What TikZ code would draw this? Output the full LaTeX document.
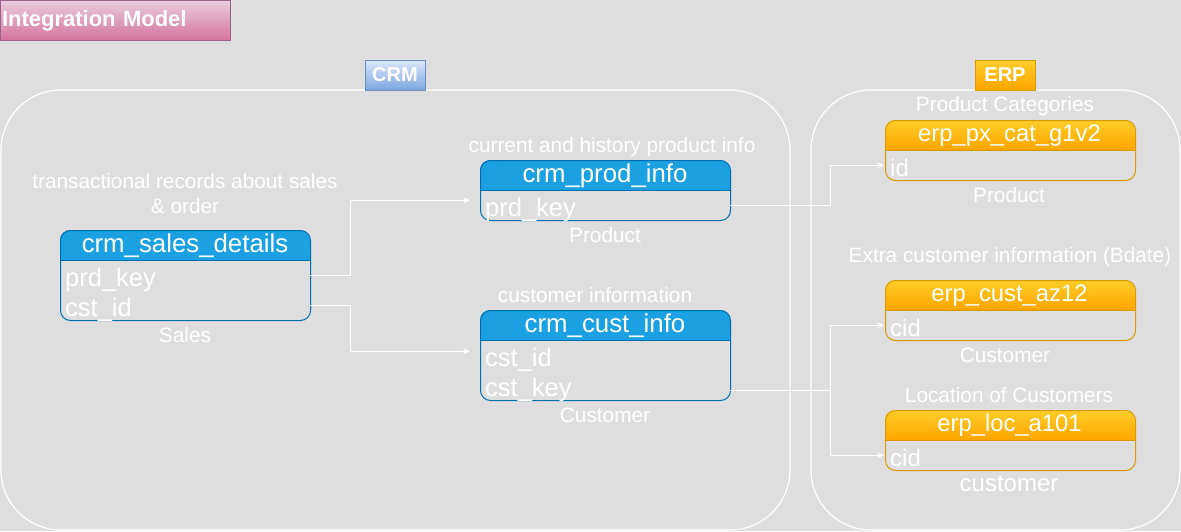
\documentclass[tikz,border=0pt]{standalone}
\usepackage{fontspec}
\setmainfont{Liberation Sans}
\usetikzlibrary{arrows.meta,calc}
\definecolor{bg}{HTML}{DEDEDE}
\definecolor{crmhead}{HTML}{1BA1E2}
\definecolor{crmline}{HTML}{006EAF}
\definecolor{erptop}{HTML}{FFCD28}
\definecolor{erpbot}{HTML}{FFA500}
\definecolor{erpline}{HTML}{D79B00}
\definecolor{pinktop}{HTML}{E8CCDC}
\definecolor{pinkbot}{HTML}{D5739D}
\definecolor{pinkline}{HTML}{996185}
\definecolor{bluetop}{HTML}{DAE8FC}
\definecolor{bluebot}{HTML}{7EA6E0}
\definecolor{blueline}{HTML}{6C8EBF}
\tikzset{
  container/.style={draw=white, line width=1.2pt, rounded corners=60pt},
  annot/.style={text=white, inner sep=0pt, align=center, text height=15pt, text depth=4pt, font=\fontsize{20.8}{25}\selectfont},
  tblbox/.style={draw=#1, line width=1pt, rounded corners=10pt, anchor=north west, inner sep=0pt, minimum width=250pt},
  crmshade/.style={fill=crmhead},
  erpshade/.style={top color=erptop, bottom color=erpbot},
  hdrcrm/.style={text=white, inner sep=0pt, text height=19pt, text depth=5pt, font=\fontsize{25.8}{30}\selectfont},
  hdrerp/.style={text=white, inner sep=0pt, text height=18pt, text depth=5pt, font=\fontsize{23.8}{28}\selectfont},
  rowcell/.style={anchor=north west, minimum width=250pt, minimum height=30pt, text width=240pt,
    inner xsep=5pt, inner ysep=2pt, text height=24pt, text depth=2pt, text=white, align=left},
  crmrow/.style={rowcell, font=\fontsize{25.5}{30}\selectfont},
  erprow/.style={rowcell, font=\fontsize{24}{28}\selectfont},
  conn/.style={draw=white, line width=1pt, -{Stealth[length=7pt,width=6pt]}},
  labelbox/.style={line width=1pt, inner sep=0pt, text=white, font=\bfseries\fontsize{20}{24}\selectfont,
    minimum width=60pt, minimum height=30pt},
}
\newcommand{\dbtab}[6]{%
  \pgfmathsetmacro{\tabh}{30+30*#4}%
  \begin{scope}
    \clip[rounded corners=10pt] (#2,#3) rectangle ++(250,\tabh);
    \path[#5] (#2,#3) rectangle ++(250,30);
  \end{scope}
  \node[tblbox=#6, minimum height=\tabh pt] (#1) at (#2,#3) {};
  \draw[#6, line width=1pt] (#2,#3+30) -- ++(250,0);
}
\begin{document}
\begin{tikzpicture}[x=1pt, y=-1pt]
\fill[bg] (0,0) rectangle (1181,531);
\useasboundingbox (0,0) rectangle (1181,531);

% containers
\draw[container] (1,90) rectangle (790,530);
\draw[container] (811,90) rectangle (1180,530);

% title and group labels
\node[draw=pinkline, line width=1pt, top color=pinktop, bottom color=pinkbot, anchor=north west,
      minimum width=230pt, minimum height=40pt, text width=227pt, inner xsep=1.5pt, align=left,
      text=white, font=\bfseries\fontsize{22}{26}\selectfont] (title) at (0,0) {Integration Model};
\node[labelbox, draw=blueline, top color=bluetop, bottom color=bluebot] (crm) at (395,75) {CRM};
\node[labelbox, draw=erpline, top color=erptop, bottom color=erpbot] (erp) at (1005,75) {ERP};

% CRM tables
\dbtab{sd}{60}{230}{2}{crmshade}{crmline}
\node[hdrcrm] (sd-h) at (185,245) {crm\_sales\_details};
\node[crmrow] (sd-r1) at (60,260) {prd\_key};
\node[crmrow] (sd-r2) at (60,290) {cst\_id};

\dbtab{pi}{480}{160}{1}{crmshade}{crmline}
\node[hdrcrm] (pi-h) at (605,175) {crm\_prod\_info};
\node[crmrow] (pi-r1) at (480,190) {prd\_key};

\dbtab{ci}{480}{310}{2}{crmshade}{crmline}
\node[hdrcrm] (ci-h) at (605,325) {crm\_cust\_info};
\node[crmrow] (ci-r1) at (480,340) {cst\_id};
\node[crmrow] (ci-r2) at (480,370) {cst\_key};

% ERP tables
\dbtab{pc}{885}{120}{1}{erpshade}{erpline}
\node[hdrerp] (pc-h) at (1009.5,135) {erp\_px\_cat\_g1v2};
\node[erprow] (pc-r1) at (885,150) {id};

\dbtab{az}{885}{280}{1}{erpshade}{erpline}
\node[hdrerp] (az-h) at (1009.5,295) {erp\_cust\_az12};
\node[erprow] (az-r1) at (885,310) {cid};

\dbtab{lc}{885}{410}{1}{erpshade}{erpline}
\node[hdrerp] (lc-h) at (1009.5,425) {erp\_loc\_a101};
\node[erprow] (lc-r1) at (885,440) {cid};

% annotations
\node[annot, text height=, text depth=] (sd-a) at (185,194) {transactional records about sales\\\& order};
\node[annot] (sd-l) at (185,337) {Sales};
\node[annot] (pi-a) at (612,147) {current and history product info};
\node[annot] (pi-l) at (605,237) {Product};
\node[annot] (ci-a) at (595,297) {customer information};
\node[annot] (ci-l) at (605,417) {Customer};
\node[annot] (pc-a) at (1005,106) {Product Categories};
\node[annot] (pc-l) at (1009,197) {Product};
\node[annot] (az-a) at (1010,257) {Extra customer information (Bdate)};
\node[annot] (az-l) at (1005,357) {Customer};
\node[annot] (lc-a) at (1009,397) {Location of Customers};
\node[annot, font=\fontsize{24}{28}\selectfont, text height=17pt, text depth=5pt] (lc-l) at (1009,485) {customer};

% connectors
\draw[conn, shorten >=10pt] (sd-r1.east) -- ++(40,0) |- ([yshift=5pt]pi-r1.west);
\draw[conn, shorten >=10pt] (sd-r2.east) -- ++(40,0) |- ([yshift=4pt]ci-r1.west);
\draw[conn, shorten >=1pt] (pi-r1.east) -- ++(100,0) |- (pc-r1.west);
\draw[conn, shorten >=1pt] ([yshift=-5pt]ci-r2.east) -- ++(100,0) |- (az-r1.west);
\draw[conn, shorten >=1pt] ([yshift=-5pt]ci-r2.east) -- ++(100,0) |- (lc-r1.west);
\end{tikzpicture}
\end{document}
